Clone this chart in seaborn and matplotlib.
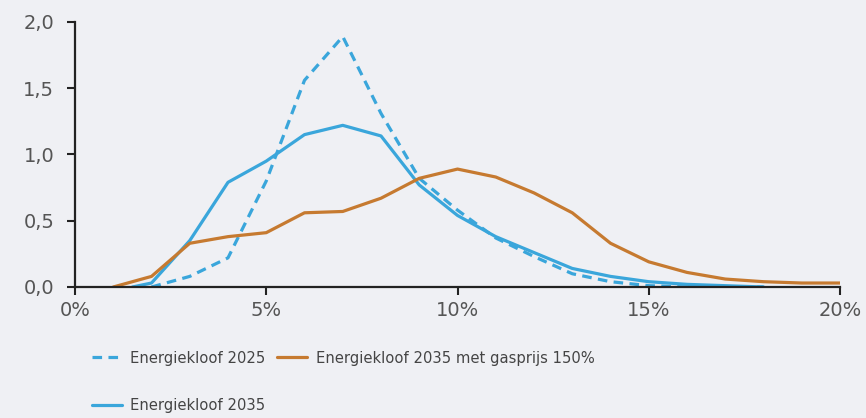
import numpy as np
import pandas as pd
import matplotlib
matplotlib.use('Agg')
import matplotlib.pyplot as plt
import seaborn as sns
from matplotlib.ticker import FuncFormatter

# percentages op de x-as
x_2025 = [2, 3, 4, 5, 6, 7, 8, 9, 10, 11, 12, 13, 14, 15, 16, 17, 18]
y_2025 = [0.0, 0.08, 0.22, 0.80, 1.56, 1.89, 1.31, 0.82, 0.58, 0.37, 0.23, 0.10, 0.04, 0.01, 0.0, 0.0, 0.0]

x_2035 = [1.5, 2, 3, 4, 5, 6, 7, 8, 9, 10, 11, 12, 13, 14, 15, 16, 17, 18]
y_2035 = [0.0, 0.03, 0.35, 0.79, 0.95, 1.15, 1.22, 1.14, 0.77, 0.54, 0.38, 0.26, 0.14, 0.08, 0.04, 0.02, 0.01, 0.0]

x_gas = [1, 2, 3, 4, 5, 6, 7, 8, 9, 10, 11, 12, 13, 14, 15, 16, 17, 18, 19, 20]
y_gas = [0.0, 0.08, 0.33, 0.38, 0.41, 0.56, 0.57, 0.67, 0.82, 0.89, 0.83, 0.71, 0.56, 0.33, 0.19, 0.11, 0.06, 0.04, 0.03, 0.03]

labels = ['Energiekloof 2025', 'Energiekloof 2035', 'Energiekloof 2035 met gasprijs 150%']
x_ticks = [0, 5, 10, 15, 20]
y_ticks = [0.0, 0.5, 1.0, 1.5, 2.0]

blue = '#3aa6db'
orange = '#c67a30'
bg = '#eff0f4'

sns.set_style('white')
plt.rcParams['font.family'] = ['DejaVu Sans']

fig = plt.figure(figsize=(8.66, 4.18), dpi=100, facecolor=bg)
ax = fig.add_axes([0.0866, 0.3134, 0.8834, 0.634])
ax.set_facecolor(bg)

sns.lineplot(x=x_2025, y=y_2025, ax=ax, color=blue, lw=2.3, label=labels[0])
ax.lines[-1].set_dashes([3, 2])
sns.lineplot(x=x_2035, y=y_2035, ax=ax, color=blue, lw=2.3, label=labels[1])
sns.lineplot(x=x_gas, y=y_gas, ax=ax, color=orange, lw=2.3, label=labels[2])

ax.set_xlim(0, 20)
ax.set_ylim(0, 2.0)
ax.set_xticks(x_ticks)
ax.set_yticks(y_ticks)
ax.xaxis.set_major_formatter(FuncFormatter(lambda v, p: f'{v:.0f}%'))
ax.yaxis.set_major_formatter(FuncFormatter(lambda v, p: f'{v:.1f}'.replace('.', ',')))
ax.tick_params(axis='both', labelsize=14, colors='#222222', labelcolor='#555555',
               direction='out', length=6, width=1.5, left=True, bottom=True)
ax.tick_params(axis='y', pad=9)
ax.tick_params(axis='x', pad=4)

for side in ['top', 'right']:
    ax.spines[side].set_visible(False)
for side in ['left', 'bottom']:
    ax.spines[side].set_color('#222222')
    ax.spines[side].set_linewidth(1.6)
ax.set_xlabel('')
ax.set_ylabel('')

leg = ax.legend(loc='upper left', bbox_to_anchor=(0.005, -0.19), ncol=2, frameon=False,
                fontsize=10.6, handlelength=2.0, handletextpad=0.6, columnspacing=0.8,
                labelspacing=2.2, labelcolor='#444444')

fig.savefig('out.png', dpi=100, facecolor=bg)
